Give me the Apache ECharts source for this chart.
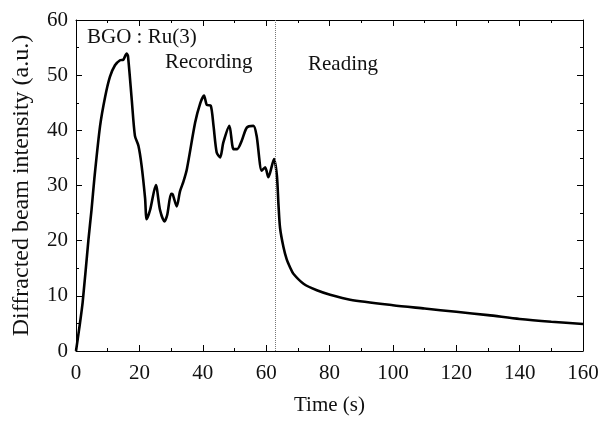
<!DOCTYPE html>
<html>
<head>
<meta charset="utf-8">
<script src="https://cdn.jsdelivr.net/npm/echarts@6/dist/echarts.min.js"></script>
<style>html,body{margin:0;padding:0;background:#fff}#c{width:607px;height:421px}</style>
</head>
<body>
<div id="c"></div>
<script>
const timeS = [0, 1, 2.1, 3.9, 4.9, 5.8, 7.6, 9.2, 10.7, 12.3, 13.9, 14.9, 16.0, 16.4, 17.6, 18.6, 19.7, 20.7, 21.8, 22.3, 23.4, 25.2, 26.5, 27.9, 28.8, 30.0, 30.5, 31.8, 32.8, 33.9, 35.0, 37.6, 39.2, 40.4, 41.3, 42.5, 43.4, 44.4, 45.5, 46.5, 48.4, 49.7, 50.9, 52.3, 53.9, 56.0, 57.0, 58.6, 59.7, 60.7, 62.5, 63.4, 63.9, 64.4, 65.5, 66.5, 67.6, 68.6, 71.8, 76, 80.2, 86.5, 100, 110, 120, 130, 140, 150, 160];
const intensity = [0, 4, 8.8, 20, 25.6, 31.3, 40.8, 46.1, 49.7, 51.8, 52.7, 52.8, 53.9, 53.5, 45.5, 39, 37.2, 33.6, 27.7, 23.9, 25.6, 30.1, 25.6, 23.5, 24.7, 28.5, 28.4, 26.2, 28.9, 30.7, 33, 41.4, 44.9, 46.3, 44.6, 44.5, 40.8, 36, 35.1, 37.8, 40.8, 36.6, 36.6, 38.1, 40.5, 40.8, 39, 32.7, 33.3, 31.5, 34.8, 31.8, 26.5, 22.3, 18.75, 16.6, 15.1, 14.0, 12.2, 11.0, 10.2, 9.3, 8.3, 7.7, 7.1, 6.5, 5.8, 5.3, 4.9];
const phaseBoundary = [63];
const annotations = ['BGO : Ru(3)', 'Recording', 'Reading'];
const xTitle = 'Time (s)';
const yTitle = 'Diffracted beam intensity (a.u.)';

const FONT = "'Liberation Serif', 'DejaVu Serif', serif";
const chart = echarts.init(document.getElementById('c'), null, {renderer: 'canvas'});
const axisCommon = {
  axisLine: {show: true, onZero: false, lineStyle: {color: '#000', width: 1}},
  splitLine: {show: false},
  axisTick: {show: true, inside: true, length: 6, lineStyle: {color: '#000', width: 1}},
  minorTick: {show: true, splitNumber: 2, length: 3, lineStyle: {color: '#000', width: 1}},
};
chart.setOption({
  animation: false,
  backgroundColor: '#fff',
  grid: {left: 76, right: 24, top: 20, bottom: 66, containLabel: false},
  xAxis: [
    Object.assign({type: 'value', min: 0, max: 160, interval: 20, position: 'bottom',
      name: xTitle, nameLocation: 'middle', nameGap: 44,
      nameTextStyle: {fontFamily: FONT, fontSize: 21, color: '#111'},
      axisLabel: {fontFamily: FONT, fontSize: 21, color: '#111', margin: 12}}, axisCommon),
    Object.assign({type: 'value', min: 0, max: 160, interval: 20, position: 'top',
      axisLabel: {show: false}}, axisCommon)
  ],
  yAxis: [
    Object.assign({type: 'value', min: 0, max: 60, interval: 10, position: 'left',
      name: yTitle, nameLocation: 'middle', nameGap: 42,
      nameTextStyle: {fontFamily: FONT, fontSize: 24, color: '#111'},
      axisLabel: {fontFamily: FONT, fontSize: 21, color: '#111', margin: 8}}, axisCommon),
    Object.assign({type: 'value', min: 0, max: 60, interval: 10, position: 'right',
      axisLabel: {show: false}}, axisCommon)
  ],
  series: [{
    type: 'line',
    data: timeS.map((t, i) => [t, intensity[i]]),
    showSymbol: false,
    smooth: 0.25,
    lineStyle: {color: '#000', width: 2.6},
    markLine: {
      silent: true, symbol: 'none', label: {show: false},
      lineStyle: {color: '#777', type: 'dotted', width: 1},
      data: phaseBoundary.map(x => ({xAxis: x}))
    }
  }],
  graphic: [
    {type: 'text', left: 87, top: 27, style: {text: annotations[0], font: '21px ' + FONT, fill: '#111'}},
    {type: 'text', left: 165, top: 52, style: {text: annotations[1], font: '21px ' + FONT, fill: '#111'}},
    {type: 'text', left: 308, top: 54, style: {text: annotations[2], font: '21px ' + FONT, fill: '#111'}}
  ]
});
</script>
</body>
</html>
